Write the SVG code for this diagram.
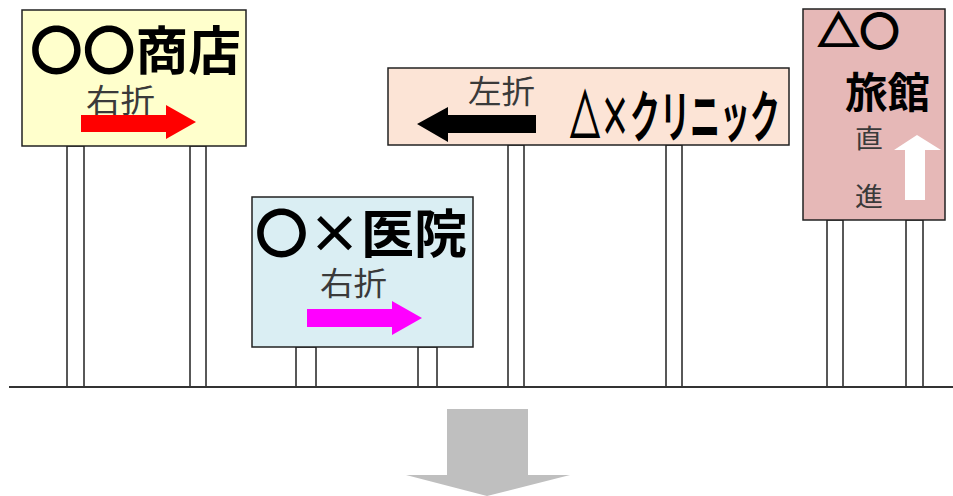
<svg xmlns="http://www.w3.org/2000/svg" width="953" height="496" viewBox="0 0 953 496">
<style>
.post{fill:#fff;stroke:#222;stroke-width:1.5}
.board{stroke:#222;stroke-width:1.5}
.title{font-family:"Noto Sans CJK JP","Noto Sans CJK SC",sans-serif;font-weight:bold;fill:#000;dominant-baseline:central}
.thick{stroke:#000;stroke-width:2.2}
.dir{font-family:"Noto Sans CJK JP","Noto Sans CJK SC",serif;font-weight:normal;fill:#3a3a3a;dominant-baseline:central}
</style>
<rect width="953" height="496" fill="#fff"/>
<g id="posts">
  <rect class="post" x="67" y="146" width="17" height="241"/>
  <rect class="post" x="190" y="146" width="16" height="241"/>
  <rect class="post" x="296" y="347" width="20" height="40"/>
  <rect class="post" x="418" y="347" width="19" height="40"/>
  <rect class="post" x="508" y="145" width="16" height="242"/>
  <rect class="post" x="666" y="145" width="16" height="242"/>
  <rect class="post" x="827" y="220" width="16" height="167"/>
  <rect class="post" x="906" y="220" width="17" height="167"/>
</g>
<line id="ground" x1="9" y1="387" x2="953" y2="387" stroke="#333" stroke-width="2"/>
<g id="sign-shop">
  <rect class="board" x="22" y="10" width="224" height="136" fill="#ffffcc"/>
  <text class="title" x="30" y="47" font-size="52" textLength="211" lengthAdjust="spacingAndGlyphs">〇〇商店</text>
  <text class="dir" x="86" y="98" font-size="32" textLength="69" lengthAdjust="spacingAndGlyphs">右折</text>
  <polygon points="81,115 166,115 166,105 196,122 166,139 166,132 81,132" fill="#ff0000"/>
</g>
<g id="sign-clinic">
  <rect class="board" x="388" y="68" width="401" height="77" fill="#fce4d6"/>
  <text class="dir" x="468" y="89" font-size="32" textLength="67" lengthAdjust="spacingAndGlyphs">左折</text>
  <polygon points="536,115 448,115 448,107 417,124 448,142 448,133 536,133" fill="#000"/>
  <text class="title" x="570" y="112" font-size="56" textLength="210" lengthAdjust="spacingAndGlyphs"><tspan class="thick">△</tspan>×クリニック</text>
</g>
<g id="sign-hospital">
  <rect class="board" x="252" y="197" width="221" height="150" fill="#daeef3"/>
  <text class="title" x="255" y="230" font-size="52" textLength="212" lengthAdjust="spacingAndGlyphs">〇×医院</text>
  <text class="dir" x="320" y="281" font-size="32" textLength="67" lengthAdjust="spacingAndGlyphs">右折</text>
  <polygon points="307,309 392,309 392,301 422,318 392,335 392,327 307,327" fill="#ff00ff"/>
</g>
<g id="sign-inn">
  <rect class="board" x="803" y="9" width="142" height="211" fill="#e6b8b7"/>
  <text class="title" x="818" y="29" font-size="40" textLength="82" lengthAdjust="spacingAndGlyphs"><tspan class="thick">△</tspan>〇</text>
  <text class="title" x="845" y="89" font-size="42" textLength="85" lengthAdjust="spacingAndGlyphs">旅館</text>
  <text class="dir" x="855" y="136" font-size="26" textLength="28" lengthAdjust="spacingAndGlyphs">直</text>
  <text class="dir" x="855" y="194" font-size="26" textLength="28" lengthAdjust="spacingAndGlyphs">進</text>
  <polygon points="905,200 905,150 894,150 917,135 941,150 925,150 925,200" fill="#fff"/>
</g>
<g id="connectors">
  <polygon points="447,409 528,409 528,475 570,475 487,496 406,475 447,475" fill="#bfbfbf"/>
</g>
</svg>
